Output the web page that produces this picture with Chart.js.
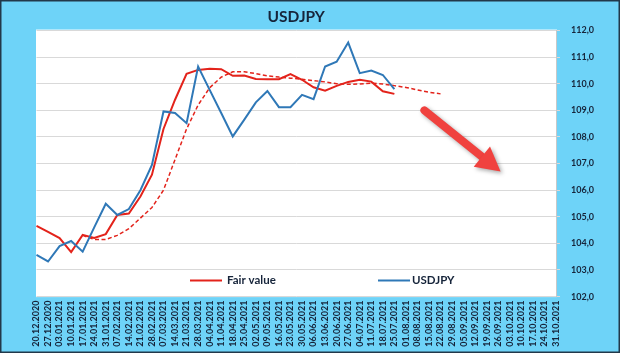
<!DOCTYPE html>
<html>
<head>
<meta charset="utf-8">
<script src="https://cdn.jsdelivr.net/npm/chart.js@4.4.0/dist/chart.umd.min.js"></script>
<style>
  html, body { margin: 0; padding: 0; background: #6ed3f8; }
  canvas { display: block; }
</style>
</head>
<body>
<canvas id="chart" width="620" height="353"></canvas>
<script>
// weekly dates, Dec 2020 - Oct 2021
const labels = [
  "20.12.2020", "27.12.2020", "03.01.2021", "10.01.2021", "17.01.2021", "24.01.2021",
  "31.01.2021", "07.02.2021", "14.02.2021", "21.02.2021", "28.02.2021", "07.03.2021",
  "14.03.2021", "21.03.2021", "28.03.2021", "04.04.2021", "11.04.2021", "18.04.2021",
  "25.04.2021", "02.05.2021", "09.05.2021", "16.05.2021", "23.05.2021", "30.05.2021",
  "06.06.2021", "13.06.2021", "20.06.2021", "27.06.2021", "04.07.2021", "11.07.2021",
  "18.07.2021", "25.07.2021", "01.08.2021", "08.08.2021", "15.08.2021", "22.08.2021",
  "29.08.2021", "05.09.2021", "12.09.2021", "19.09.2021", "26.09.2021", "03.10.2021",
  "10.10.2021", "17.10.2021", "24.10.2021", "31.10.2021"
];

const usdjpy = [
  103.57, 103.32, 103.90, 104.09, 103.69, 104.60, 105.49, 105.07, 105.29, 106.00,
  106.95, 108.96, 108.90, 108.52, 110.65, 109.77, 108.90, 108.02, 108.65, 109.30,
  109.73, 109.12, 109.12, 109.58, 109.42, 110.65, 110.83, 111.55, 110.40, 110.50,
  110.33, 109.80
];

const fairValue = [
  104.66, 104.43, 104.20, 103.67, 104.32, 104.20, 104.35, 105.07, 105.12, 105.76,
  106.58, 108.30, 109.40, 110.37, 110.52, 110.56, 110.55, 110.30, 110.31, 110.18,
  110.17, 110.17, 110.36, 110.15, 109.87, 109.74, 109.92, 110.07, 110.15, 110.08,
  109.72, 109.62
];

// dashed red line (average of fair value)
const fairAvg = [
  null, null, null, null, 104.30, 104.15, 104.15, 104.30, 104.55, 104.95,
  105.35, 106.00, 107.15, 108.30, 109.20, 109.85, 110.25, 110.45, 110.45, 110.38,
  110.30, 110.25, 110.21, 110.17, 110.12, 110.07, 110.00, 109.98, 109.99, 110.02,
  109.99, 109.93, 109.86, 109.77, 109.68, 109.62
];

// arrow annotation: [index, value] tail and tip
const arrowFrom = [33.6, 109.0];
const arrowTo = [40.2, 106.7];

const textColor = "#16243a";
const red = "#e3231b";
const blue = "#2f78b7";

const backdrop = {
  id: "backdrop",
  beforeDraw(c) {
    const ctx = c.ctx, a = c.chartArea;
    ctx.save();
    ctx.fillStyle = "#6ed3f8";
    ctx.fillRect(0, 0, c.width, c.height);
    ctx.fillStyle = "#ffffff";
    ctx.fillRect(a.left - 0.5, a.top - 1, a.right - a.left + 1.5, a.bottom - a.top + 1.5);
    ctx.strokeStyle = "#22384a";
    ctx.lineWidth = 1.5;
    ctx.strokeRect(0.75, 0.75, c.width - 1.5, c.height - 1.5);
    ctx.restore();
  }
};

const extras = {
  id: "extras",
  afterDraw(c) {
    const ctx = c.ctx, x = c.scales.x, y = c.scales.y;

    // legend inside the plot
    const ly = 280.5;
    ctx.save();
    ctx.font = "bold 11.5px Lato";
    ctx.textBaseline = "middle";
    ctx.fillStyle = textColor;
    ctx.lineWidth = 2;
    ctx.strokeStyle = red;
    ctx.beginPath(); ctx.moveTo(190, ly); ctx.lineTo(222, ly); ctx.stroke();
    ctx.fillText("Fair value", 227, ly);
    ctx.strokeStyle = blue;
    ctx.beginPath(); ctx.moveTo(378, ly); ctx.lineTo(410, ly); ctx.stroke();
    ctx.fillText("USDJPY", 412, ly);
    ctx.restore();

    // red arrow
    const x0 = x.getPixelForValue(arrowFrom[0]), y0 = y.getPixelForValue(arrowFrom[1]);
    const x1 = x.getPixelForValue(arrowTo[0]), y1 = y.getPixelForValue(arrowTo[1]);
    const ang = Math.atan2(y1 - y0, x1 - x0);
    const head = 24, half = 13;
    const bx = x1 - Math.cos(ang) * head, by = y1 - Math.sin(ang) * head;
    ctx.save();
    ctx.shadowColor = "rgba(0,0,0,0.35)";
    ctx.shadowBlur = 4;
    ctx.shadowOffsetX = 2;
    ctx.shadowOffsetY = 2;
    ctx.strokeStyle = "#f0423f";
    ctx.fillStyle = "#f0423f";
    ctx.lineWidth = 8;
    ctx.lineCap = "round";
    ctx.beginPath(); ctx.moveTo(x0, y0); ctx.lineTo(bx + Math.cos(ang) * 2, by + Math.sin(ang) * 2); ctx.stroke();
    ctx.beginPath();
    ctx.moveTo(x1, y1);
    ctx.lineTo(bx + Math.sin(ang) * half, by - Math.cos(ang) * half);
    ctx.lineTo(bx - Math.sin(ang) * half, by + Math.cos(ang) * half);
    ctx.closePath();
    ctx.fill();
    ctx.restore();
  }
};

new Chart(document.getElementById("chart"), {
  type: "line",
  data: {
    labels: labels,
    datasets: [
      { label: "USDJPY", data: usdjpy, borderColor: blue, borderWidth: 2, pointRadius: 0, tension: 0 },
      { label: "Fair value", data: fairValue, borderColor: red, borderWidth: 2, pointRadius: 0, tension: 0 },
      { label: "avg", data: fairAvg, borderColor: red, borderWidth: 1.5, borderDash: [4, 2.5], pointRadius: 0, tension: 0 }
    ]
  },
  options: {
    responsive: false,
    animation: false,
    devicePixelRatio: 1,
    layout: { padding: { left: 36.5, right: 0, top: 0, bottom: 0 } },
    plugins: {
      legend: { display: false },
      tooltip: { enabled: false },
      title: {
        display: true,
        text: "USDJPY",
        fullSize: false,
        color: textColor,
        font: { family: "Lato", size: 15.5, weight: "bold", lineHeight: 1.1 },
        padding: { top: 8, bottom: 5.5 }
      }
    },
    scales: {
      x: {
        offset: false,
        grid: { display: false, drawTicks: false },
        border: { display: false },
        ticks: {
          color: textColor,
          font: { family: "Lato", size: 9, weight: "bold" },
          minRotation: 90,
          maxRotation: 90,
          autoSkip: false,
          padding: 4
        },
        afterFit(s) { s.height = 56.4; }
      },
      y: {
        position: "right",
        min: 102,
        max: 112,
        grid: { color: "#d9d9d9", lineWidth: 1, tickLength: 4 },
        border: { display: true, color: "#c8c8c8" },
        ticks: {
          stepSize: 1,
          color: textColor,
          padding: 11,
          font: { family: "Lato", size: 9, weight: "bold" },
          callback: v => v.toFixed(1).replace(".", ",")
        },
        afterFit(s) { s.width = 64; }
      }
    }
  },
  plugins: [backdrop, extras]
});
</script>
</body>
</html>
